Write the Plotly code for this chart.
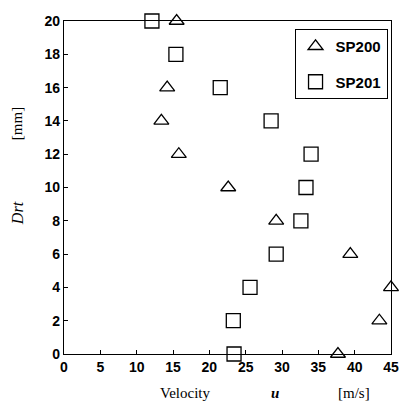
import plotly.graph_objects as go

drt = [20, 18, 16, 14, 12, 10, 8, 6, 4, 2, 0]

sp200_u = [15.5, 14.2, 13.4, 15.8, 22.6, 29.2, 39.4, 43.4, 45.0, 37.7]
sp200_d = [20, 16, 14, 12, 10, 8, 6, 2, 4, 0]

sp201_u = [12.1, 15.4, 21.5, 28.5, 34.0, 33.3, 32.6, 29.2, 25.6, 23.3, 23.4]
sp201_d = drt

x_ticks = [0, 5, 10, 15, 20, 25, 30, 35, 40, 45]
y_ticks = [0, 2, 4, 6, 8, 10, 12, 14, 16, 18, 20]

fig = go.Figure()
fig.add_trace(go.Scatter(
    x=sp200_u, y=sp200_d, mode="markers", name="<b>SP200</b>", legendgroup="a",
    marker=dict(symbol="triangle-up", size=13, color="white",
                line=dict(color="black", width=1.3)),
    cliponaxis=False,
))
fig.add_trace(go.Scatter(
    x=sp201_u, y=sp201_d, mode="markers", name="<b>SP201</b>", legendgroup="b",
    marker=dict(symbol="square", size=14, color="white",
                line=dict(color="black", width=1.3)),
    cliponaxis=False,
))

tickfont = dict(family="Liberation Sans, Arial, sans-serif", size=14,
                color="black")

fig.update_layout(
    width=409, height=403,
    margin=dict(l=64, r=10, t=21, b=49),
    paper_bgcolor="white", plot_bgcolor="white",
    showlegend=True,
    legend=dict(
        x=0.705, y=0.976, xanchor="left", yanchor="top",
        bordercolor="black", borderwidth=1, bgcolor="white",
        font=dict(family="Liberation Sans, Arial, sans-serif", size=15,
                  color="black"),
        tracegroupgap=13, traceorder="grouped",
        entrywidth=66,
    ),
    xaxis=dict(
        range=[0, 45], tickvals=x_ticks,
        ticktext=[f"<b>{v}</b>" for v in x_ticks],
        ticks="inside", ticklen=4,
        tickcolor="black", showline=True, linecolor="black", linewidth=1.3,
        mirror=True, showgrid=False, zeroline=False, tickfont=tickfont,
    ),
    yaxis=dict(
        range=[0, 20], tickvals=y_ticks,
        ticktext=[f"<b>{v}</b>" for v in y_ticks],
        ticks="inside", ticklen=4,
        tickcolor="black", showline=True, linecolor="black", linewidth=1.3,
        mirror=True, showgrid=False, zeroline=False, tickfont=tickfont,
    ),
    annotations=[
        dict(text="Velocity", showarrow=False,
             font=dict(family="Liberation Serif, serif", size=15, color="black")),
        dict(text="<b><i>u</i></b>", showarrow=False,
             font=dict(family="Liberation Serif, serif", size=15, color="black")),
        dict(text="[m/s]", showarrow=False,
             font=dict(family="Liberation Serif, serif", size=15, color="black")),
        dict(text="<i>Drt</i>", showarrow=False, textangle=-90,
             font=dict(family="Liberation Serif, serif", size=16, color="black")),
        dict(text="[mm]", showarrow=False, textangle=-90,
             font=dict(family="Liberation Serif, serif", size=15, color="black")),
    ],
)

# place annotations in paper coordinates derived from pixel layout
W, H = 409, 403
l, r, t, b = 64, 10, 21, 49
pw, ph = W - l - r, H - t - b
def px(xp): return (xp - l) / pw
def py(yp): return (H - b - yp) / ph

pos = [(188, 393), (280, 393), (361, 393), (16, 213), (16, 124)]
anns = list(fig.layout.annotations)
for a, (xp, yp) in zip(anns, pos):
    a.xref = "paper"; a.yref = "paper"
    a.x = px(xp); a.y = py(yp)
    a.xanchor = "center"; a.yanchor = "middle"
fig.layout.annotations = anns

fig.write_html("out.html")
